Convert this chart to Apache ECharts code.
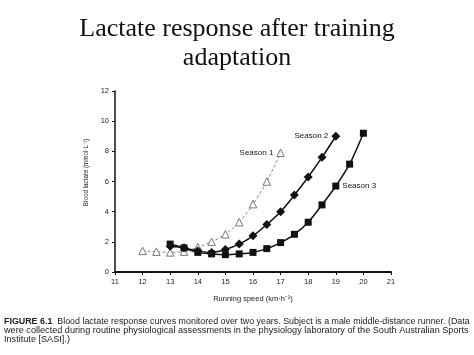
<!DOCTYPE html>
<html><head><meta charset="utf-8">
<script src="https://cdn.jsdelivr.net/npm/echarts@6/dist/echarts.min.js"></script>
<style>html,body{margin:0;padding:0;background:#fff}#c{width:474px;height:355px}</style>
</head><body><div id="c"></div>
<script>
const seriesNames = ['Season 1', 'Season 2', 'Season 3'];
const speeds1 = [12, 12.5, 13, 13.5, 14, 14.5, 15, 15.5, 16, 16.5, 17];
const season1 = [1.4, 1.35, 1.3, 1.35, 1.65, 2.0, 2.5, 3.3, 4.5, 6.0, 7.9];
const speeds2 = [13, 13.5, 14, 14.5, 15, 15.5, 16, 16.5, 17, 17.5, 18, 18.5, 19];
const season2 = [1.7, 1.6, 1.4, 1.3, 1.5, 1.85, 2.4, 3.15, 4.0, 5.1, 6.3, 7.6, 9.0];
const speeds3 = [13, 13.5, 14, 14.5, 15, 15.5, 16, 16.5, 17, 17.5, 18, 18.5, 19, 19.5, 20];
const season3 = [1.85, 1.6, 1.3, 1.2, 1.15, 1.2, 1.3, 1.55, 1.95, 2.5, 3.3, 4.45, 5.7, 7.15, 9.2];
const titleLines = ['Lactate response after training', 'adaptation'];
const xName = 'Running speed (km·h⁻¹)';
const yName = 'Blood lactate (mmol·L⁻¹)';
const captionLines = [
  ['FIGURE 6.1', '  Blood lactate response curves monitored over two years. Subject is a male middle-distance runner. (Data'],
  ['', 'were collected during routine physiological assessments in the physiology laboratory of the South Australian Sports'],
  ['', 'Institute [SASI].)']
];

function pts(xs, ys, labelIdx, pos, name) {
  return xs.map((x, i) => {
    const d = { value: [x, ys[i]] };
    if (i === labelIdx) {
      d.label = { show: true, position: pos, formatter: name, color: '#111', fontSize: 8, fontFamily: 'Liberation Sans', distance: 3 };
    }
    return d;
  });
}

const chart = echarts.init(document.getElementById('c'), null, { renderer: 'canvas' });
const capY = [322, 330.5, 339];
const capSize = [8.9, 9.15, 9.15];
const graphics = [];
titleLines.forEach((t, i) => {
  graphics.push({ type: 'text', left: 'center', y: [28.7, 58.2][i], style: { text: t, fontFamily: 'Liberation Serif', fontSize: 26, fill: '#111', verticalAlign: 'middle' } });
});
captionLines.forEach((l, i) => {
  graphics.push({ type: 'text', x: 4, y: capY[i], style: {
    text: (l[0] ? '{b|' + l[0] + '}' : '') + '{n|' + l[1] + '}',
    verticalAlign: 'middle',
    rich: {
      b: { fontFamily: 'Liberation Sans', fontSize: capSize[i], fontWeight: 'bold', fill: '#222' },
      n: { fontFamily: 'Liberation Sans', fontSize: capSize[i], fill: '#222' }
    }
  }});
});

chart.setOption({
  animation: false,
  backgroundColor: '#fff',
  grid: { left: 115, right: 83, top: 91, bottom: 83 },
  xAxis: {
    type: 'value', min: 11, max: 21, interval: 1,
    name: xName, nameLocation: 'middle', nameGap: 23,
    nameTextStyle: { fontFamily: 'Liberation Sans', fontSize: 7.5, color: '#222' },
    axisLine: { lineStyle: { color: '#111', width: 2 } },
    axisTick: { show: true, length: 3, lineStyle: { color: '#111' } },
    axisLabel: { fontFamily: 'Liberation Sans', fontSize: 7.5, color: '#222', margin: 6 },
    splitLine: { show: false }
  },
  yAxis: {
    type: 'value', min: 0, max: 12, interval: 2,
    name: yName, nameLocation: 'middle', nameGap: 19, nameRotate: 90,
    nameTextStyle: { fontFamily: 'Liberation Sans', fontSize: 6.3, color: '#222', padding: [0, 0, 0, 18] },
    axisLine: { show: true, lineStyle: { color: '#111', width: 1.5 } },
    axisTick: { show: true, length: 3, lineStyle: { color: '#111' } },
    axisLabel: { fontFamily: 'Liberation Sans', fontSize: 7.5, color: '#222', margin: 6 },
    splitLine: { show: false }
  },
  series: [
    { name: seriesNames[0], type: 'line', smooth: 0.3, data: pts(speeds1, season1, speeds1.length - 1, 'left', seriesNames[0]),
      symbol: 'triangle', symbolSize: 7.5, z: 3,
      lineStyle: { color: '#8a8a8a', width: 1, type: [3, 2] },
      itemStyle: { color: '#fff', borderColor: '#777', borderWidth: 1 } },
    { name: seriesNames[1], type: 'line', smooth: 0.3, data: pts(speeds2, season2, speeds2.length - 1, 'left', seriesNames[1]),
      symbol: 'diamond', symbolSize: 9, z: 4,
      lineStyle: { color: '#111', width: 1.5 },
      itemStyle: { color: '#111' } },
    { name: seriesNames[2], type: 'line', smooth: 0.3, data: pts(speeds3, season3, 12, 'right', seriesNames[2]),
      symbol: 'rect', symbolSize: 7, z: 5,
      lineStyle: { color: '#111', width: 1.5 },
      itemStyle: { color: '#111' } }
  ],
  graphic: graphics
});
</script></body></html>
